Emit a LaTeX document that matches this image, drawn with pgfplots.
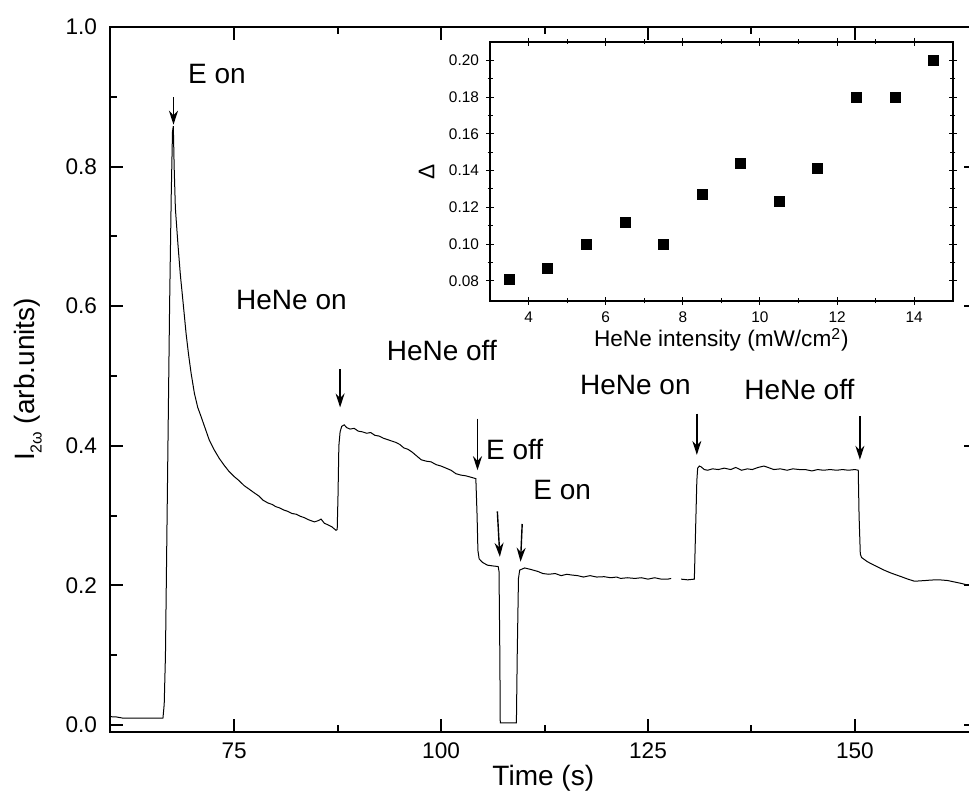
\documentclass[border=0pt]{standalone}
\usepackage{fontspec}
\setmainfont{Liberation Sans}
\usepackage{pgfplots}
\pgfplotsset{compat=1.18}
\usetikzlibrary{arrows.meta}

\pgfplotstableread{
t v
60.0 0.012
60.8 0.0115
61.5 0.010
63 0.010
65 0.010
66.4 0.010
66.55 0.03
66.7 0.10
66.85 0.25
67.0 0.40
67.2 0.60
67.4 0.76
67.55 0.85
67.65 0.858
67.75 0.80
67.9 0.74
68.2 0.69
68.5 0.645
68.8 0.609
69.2 0.56
69.5 0.53
69.8 0.504
70.2 0.475
70.6 0.455
71.0 0.442
71.5 0.425
72.0 0.408
72.6 0.394
73.2 0.382
73.8 0.372
74.4 0.363
75.0 0.356
75.6 0.350
76.2 0.343
76.8 0.338
77.5 0.332
78.0 0.328
78.5 0.322
79.1 0.318
79.6 0.316
80.0 0.313
80.5 0.311
81.0 0.308
81.5 0.306
82.0 0.303
82.5 0.302
83.0 0.299
83.5 0.297
84.0 0.294
84.7 0.291
85.2 0.293
85.5 0.295
85.9 0.289
86.3 0.287
86.8 0.284
87.3 0.279
87.45 0.28
87.55 0.33
87.65 0.40
87.8 0.420
88.0 0.428
88.3 0.430
88.6 0.426
89.0 0.424
89.5 0.425
90.0 0.421
90.5 0.420
91 0.418
91.5 0.419
92 0.415
92.5 0.414
93 0.411
93.5 0.409
94 0.407
94.5 0.405
95 0.402
95.5 0.397
96 0.395
96.5 0.391
97 0.386
97.6 0.380
98.2 0.378
98.8 0.377
99.4 0.373
100.0 0.371
100.6 0.368
101.2 0.365
101.8 0.360
102.4 0.358
103 0.357
103.6 0.355
104.2 0.353
104.35 0.30
104.45 0.25
104.6 0.238
105.0 0.233
105.6 0.229
106.2 0.228
106.9 0.227
107.0 0.22
107.1 0.10
107.15 0.003
109.1 0.003
109.2 0.10
109.35 0.21
109.5 0.222
110.1 0.225
110.8 0.223
111.7 0.220
112.3 0.217
113 0.216
113.8 0.217
114.5 0.214
115.2 0.216
115.7 0.215
116.5 0.214
117.2 0.212
118 0.214
118.8 0.212
119.7 0.2125
120.5 0.211
121.2 0.212
121.7 0.210
122.5 0.211
123.4 0.210
124.2 0.211
125 0.209
125.8 0.211
126.6 0.209
127.4 0.209
127.8 0.210
128.4 nan
129.0 0.209
129.8 0.208
130.6 0.209
130.75 0.28
130.9 0.35
131.0 0.368
131.2 0.371
131.4 0.370
131.8 0.366
132.2 0.365
132.8 0.367
133.5 0.366
134.2 0.368
135 0.366
135.6 0.369
136.3 0.365
137 0.367
137.6 0.366
138.3 0.369
139 0.371
139.5 0.369
140.2 0.366
141 0.367
141.8 0.365
142.5 0.367
143.3 0.366
144 0.366
144.8 0.364
145.5 0.366
146.2 0.365
147 0.366
147.8 0.365
148.5 0.366
149.2 0.365
150.0 0.366
150.4 0.365
150.5 0.30
150.65 0.245
150.8 0.240
151.5 0.234
152.3 0.229
153.0 0.225
153.5 0.222
154.3 0.218
155.0 0.215
155.6 0.2125
156.4 0.209
157.2 0.206
158.5 0.207
159.2 0.2077
160.2 0.208
161.2 0.207
162.0 0.205
162.8 0.203
163.6 0.2006
164.7 0.200
}\maintrace

\pgfplotstableread{
x d
3.5 0.081
4.5 0.087
5.5 0.100
6.5 0.112
7.5 0.100
8.5 0.127
9.5 0.144
10.5 0.123
11.5 0.141
12.5 0.180
13.5 0.180
14.5 0.200
}\insetdata

\begin{document}
\begin{tikzpicture}
\begin{axis}[
  at={(0pt,0pt)}, anchor=south west,
  scale only axis, width=433.3pt, height=352.5pt,
  xmin=60, xmax=164.7, ymin=-0.01, ymax=1.0,
  axis line style={line width=1.3pt},
  xtick={75,100,125,150}, minor x tick num=1,
  ytick={0,0.2,0.4,0.6,0.8,1.0}, minor y tick num=1,
  tick align=inside,
  major tick length=6.5pt, minor tick length=3.5pt,
  every tick/.style={black, line width=1pt},
  /pgf/number format/assume math mode=true,
  tick label style={font=\fontsize{11.3}{13}\selectfont},
  yticklabel style={/pgf/number format/fixed, /pgf/number format/precision=1, /pgf/number format/fixed zerofill, xshift=-3pt},
  xticklabel style={yshift=-2pt},
  xlabel={Time (s)},
  ylabel={I\raisebox{-0.25em}{\fontsize{8}{9}\selectfont 2ω} (arb.units)},
  label style={font=\fontsize{14}{16}\selectfont},
  xlabel style={at={(axis description cs:0.5,-0.065)}, anchor=center},
  ylabel style={at={(axis description cs:-0.0946,0.5)}, anchor=center},
  unbounded coords=jump,
  clip=false,
]
\addplot[black, line width=0.5pt] table[x=t, y=v] {\maintrace};

\tikzset{ann/.style={font=\fontsize{14}{16}\selectfont, inner sep=0pt},
         arr/.style={-{Stealth[length=7pt,width=4.5pt]}, line width=0.7pt}}
\node[ann, anchor=west] at (axis cs:69.4,0.933) {E on};
\draw[arr] (axis cs:67.67,0.899) -- (axis cs:67.67,0.860);
\node[ann, anchor=west] at (axis cs:75.2,0.609) {HeNe on};
\draw[arr] (axis cs:87.8,0.51) -- (axis cs:87.8,0.455);
\node[ann, anchor=west] at (axis cs:93.4,0.537) {HeNe off};
\node[ann, anchor=west] at (axis cs:105.4,0.394) {E off};
\draw[arr] (axis cs:104.4,0.439) -- (axis cs:104.4,0.365);
\node[ann, anchor=west] at (axis cs:111.1,0.337) {E on};
\draw[arr] (axis cs:106.8,0.306) -- (axis cs:107.1,0.241);
\draw[arr] (axis cs:109.8,0.288) -- (axis cs:109.6,0.234);
\node[ann, anchor=east] at (axis cs:130.2,0.487) {HeNe on};
\draw[arr] (axis cs:130.9,0.446) -- (axis cs:130.9,0.387);
\node[ann, anchor=west] at (axis cs:136.6,0.480) {HeNe off};
\draw[arr] (axis cs:150.6,0.442) -- (axis cs:150.6,0.380);
\end{axis}

\begin{axis}[
  at={(190pt,215.5pt)}, anchor=south west,
  scale only axis, width=231.4pt, height=129.5pt,
  xmin=3, xmax=15, ymin=0.069, ymax=0.21,
  axis line style={line width=0.7pt},
  xtick={4,6,8,10,12,14}, minor x tick num=1,
  ytick={0.08,0.10,0.12,0.14,0.16,0.18,0.20}, minor y tick num=1,
  tick align=center, major tick length=4pt, minor tick length=2.5pt,
  every tick/.style={black, line width=0.5pt},
  /pgf/number format/assume math mode=true,
  tick label style={font=\fontsize{7.7}{9}\selectfont},
  yticklabel style={/pgf/number format/fixed, /pgf/number format/precision=2, /pgf/number format/fixed zerofill},
  xlabel={HeNe intensity (mW/cm\textsuperscript{2})},
  ylabel={Δ},
  label style={font=\fontsize{11.3}{13}\selectfont},
  xlabel style={at={(axis description cs:0.5,-0.15)}, anchor=center},
  ylabel style={at={(axis description cs:-0.137,0.5)}, anchor=center},
]
\addplot[only marks, mark=square*, mark size=2.5pt, black] table[x=x, y=d] {\insetdata};
\end{axis}
\pgfresetboundingbox
\path[use as bounding box] (-55pt,-33pt) rectangle (429.5pt,366pt);
\end{tikzpicture}
\end{document}
